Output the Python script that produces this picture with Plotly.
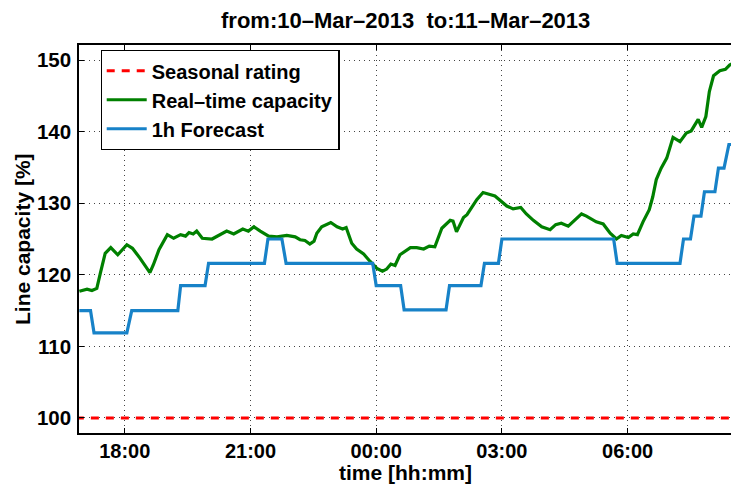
import plotly.graph_objects as go

# ---- data ----
rating_times = ["16:50", "08:40"]
rating_values = [100, 100]

realtime_times = [
    "16:55", "17:06", "17:13", "17:20", "17:25", "17:32", "17:40", "17:50", "18:03", "18:11",
    "18:22", "18:36", "18:41", "18:49", "19:01", "19:10", "19:20", "19:27", "19:32", "19:38",
    "19:43", "19:51", "20:05", "20:14", "20:26", "20:36", "20:49", "20:57", "21:05", "21:14",
    "21:26", "21:38", "21:52", "22:04", "22:11", "22:18", "22:25", "22:31", "22:35", "22:42",
    "22:49", "22:55", "23:04", "23:12", "23:17", "23:25", "23:32", "23:42", "23:51", "00:01",
    "00:09", "00:15", "00:21", "00:27", "00:34", "00:49", "00:58", "01:08", "01:16", "01:24",
    "01:34", "01:46", "01:50", "01:55", "02:05", "02:10", "02:24", "02:33", "02:50", "03:00",
    "03:07", "03:16", "03:27", "03:35", "03:45", "03:57", "04:09", "04:17", "04:25", "04:35",
    "04:42", "04:54", "05:01", "05:15", "05:25", "05:35", "05:44", "05:51", "06:01", "06:08",
    "06:14", "06:22", "06:31", "06:36", "06:41", "06:48", "06:56", "07:05", "07:15", "07:24",
    "07:31", "07:41", "07:46", "07:52", "07:57", "08:03", "08:12", "08:20", "08:26", "08:30",
]
realtime_values = [
    117.7, 118.0, 117.8, 118.1, 120.2, 123.0, 123.8, 122.8, 124.2, 123.7,
    122.3, 120.3, 121.4, 123.5, 125.6, 125.1, 125.6, 125.4, 125.9, 125.7,
    126.1, 125.1, 125.0, 125.5, 126.1, 125.7, 126.4, 126.1, 126.7, 126.1,
    125.4, 125.3, 125.5, 125.3, 124.9, 124.8, 124.3, 124.7, 125.8, 126.7,
    127.0, 127.3, 126.7, 126.4, 126.6, 124.4, 123.6, 122.9, 121.9, 120.9,
    120.5, 120.8, 121.5, 121.3, 122.8, 123.8, 123.8, 123.6, 124.0, 123.9,
    126.5, 127.6, 127.5, 126.0, 128.0, 128.4, 130.5, 131.5, 131.0, 130.2,
    129.6, 129.2, 129.4, 128.5, 127.6, 126.7, 126.3, 127.0, 127.2, 126.8,
    127.4, 128.5, 128.2, 127.4, 127.1, 125.8, 125.0, 125.5, 125.2, 125.7,
    125.6, 127.4, 129.1, 130.9, 133.3, 134.9, 136.3, 139.2, 138.6, 139.8,
    140.1, 141.7, 140.6, 142.1, 145.6, 147.8, 148.5, 148.7, 149.3, 149.5,
]

forecast_times = [
    "16:55", "17:11", "17:16", "18:03", "18:10", "19:16", "19:20", "19:55", "20:00", "21:20",
    "21:25", "21:45", "21:51", "23:55", "00:00", "00:35", "00:40", "01:40", "01:45", "02:30",
    "02:35", "02:55", "03:00", "05:40", "05:45", "07:15", "07:20", "07:30", "07:35", "07:45",
    "07:50", "08:05", "08:10", "08:18", "08:25", "08:30",
]
forecast_values = [
    115.0, 115.0, 111.9, 111.9, 115.0, 115.0, 118.5, 118.5, 121.6, 121.6,
    125.0, 125.0, 121.6, 121.6, 118.5, 118.5, 115.1, 115.1, 118.5, 118.5,
    121.6, 121.6, 125.0, 125.0, 121.6, 121.6, 125.0, 125.0, 128.2, 128.2,
    131.6, 131.6, 134.9, 134.9, 138.2, 138.2,
]

tick_times = ["18:00", "21:00", "00:00", "03:00", "06:00"]
y_ticks = [100, 110, 120, 130, 140, 150]


def to_dt(s):
    h, m = map(int, s.split(":"))
    day = "2013-03-10" if h >= 12 else "2013-03-11"
    return f"{day} {h:02d}:{m:02d}:00"


FONT = "Liberation Sans"

fig = go.Figure()
fig.add_trace(go.Scatter(
    x=[to_dt(t) for t in rating_times], y=rating_values, mode="lines",
    name="Seasonal rating", line=dict(color="#ff0000", width=3, dash="8px,7px"),
))
fig.add_trace(go.Scatter(
    x=[to_dt(t) for t in realtime_times], y=realtime_values, mode="lines",
    name="Real\u2013time capacity", line=dict(color="#008000", width=3.2),
))
fig.add_trace(go.Scatter(
    x=[to_dt(t) for t in forecast_times], y=forecast_values, mode="lines",
    name="1h Forecast", line=dict(color="#1782c8", width=3.2),
))

fig.update_layout(
    width=731, height=484,
    margin=dict(l=79, r=0, t=45, b=51),
    paper_bgcolor="white", plot_bgcolor="white",
    font=dict(family=FONT, size=20, color="black"),
    showlegend=True,
    legend=dict(
        x=0.033, y=0.987, xanchor="left", yanchor="top",
        bordercolor="black", borderwidth=1.2, bgcolor="white",
        font=dict(family=FONT, size=20, color="black", weight="bold"),
        traceorder="normal", itemwidth=40,
    ),
    xaxis=dict(
        type="date",
        range=["2013-03-10 16:54:30", "2013-03-11 08:28:00"],
        tickvals=[to_dt(t) for t in tick_times], ticktext=tick_times,
        ticks="inside", ticklen=5, tickwidth=1.2, tickcolor="black",
        showline=True, linecolor="black", linewidth=1.5, mirror="ticks",
        showgrid=True, gridcolor="#444", gridwidth=1, griddash="1px,4px",
        tickfont=dict(family=FONT, size=20, color="black", weight="bold"),
        zeroline=False, ticklabelstandoff=-1,
    ),
    yaxis=dict(
        range=[97.9, 152.1],
        tickvals=y_ticks,
        ticks="inside", ticklen=5, tickwidth=1.2, tickcolor="black",
        showline=True, linecolor="black", linewidth=1.5, mirror=False,
        showgrid=True, gridcolor="#444", gridwidth=1, griddash="1px,4px",
        tickfont=dict(family=FONT, size=20.5, color="black", weight="bold"),
        zeroline=False, ticklabelstandoff=2,
    ),
    annotations=[
        dict(text="from:10\u2013Mar\u20132013\u00a0\u00a0to:11\u2013Mar\u20132013",
             xref="paper", yref="paper", x=0.5, y=1, yshift=25, xanchor="center", yanchor="middle",
             showarrow=False, font=dict(family=FONT, size=22, color="black", weight="bold")),
        dict(text="time [hh:mm]", xref="paper", yref="paper", x=0.5, y=0, yshift=-39.5,
             xanchor="center", yanchor="middle", showarrow=False,
             font=dict(family=FONT, size=21, color="black", weight="bold")),
        dict(text="Line capacity [%]", xref="paper", yref="paper", x=0, xshift=-57, y=0.5,
             xanchor="center", yanchor="middle", textangle=-90, showarrow=False,
             font=dict(family=FONT, size=21, color="black", weight="bold")),
    ],
)

fig.write_html("out.html", config={"displayModeBar": False},
               post_script="document.body.style.margin='0';document.body.style.padding='0';")
